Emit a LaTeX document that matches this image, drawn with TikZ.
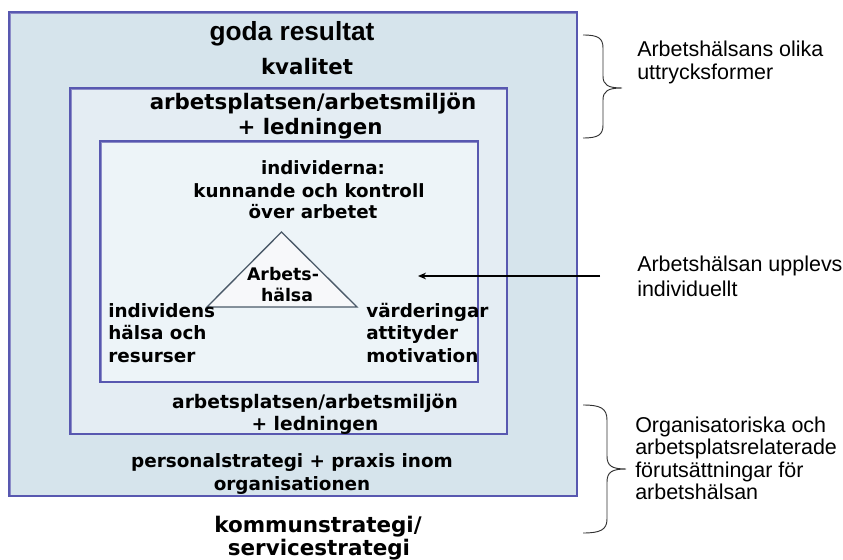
\documentclass[tikz,border=0pt]{standalone}
\usepackage{fontspec}
\setmainfont{Liberation Sans}
\newfontfamily\vfont{DejaVu Sans}
\usetikzlibrary{arrows.meta}
\definecolor{outerfill}{RGB}{214,228,236}
\definecolor{midfill}{RGB}{228,237,243}
\definecolor{innerfill}{RGB}{237,244,248}
\definecolor{boxline}{RGB}{88,88,176}
\definecolor{boxlight}{RGB}{140,140,200}
\definecolor{trifill}{RGB}{247,248,250}
\definecolor{triline}{RGB}{75,90,105}
\definecolor{bracecol}{RGB}{50,50,50}
\tikzset{
  layerbox/.style={draw=boxline, line width=1.1pt},
  vtxt/.style={inner sep=0pt, anchor=base, font=\vfont\bfseries\fontsize{#1}{#1}\selectfont},
  vtxtw/.style={inner sep=0pt, anchor=base west, font=\vfont\bfseries\fontsize{#1}{#1}\selectfont},
  lbl/.style={inner sep=0pt, anchor=base west, font=\fontsize{16.1}{18}\selectfont},
  bracepath/.style={draw=bracecol, line width=0.7pt},
  arrowline/.style={draw=black, line width=1pt, -{Stealth[length=6pt,width=5pt]}}
}
\begin{document}
\begin{tikzpicture}[x=0.75pt,y=-0.75pt]
\useasboundingbox (0,0) rectangle (843,560);
\fill[white] (0,0) rectangle (843,560);

% nested boxes
\filldraw[layerbox, fill=outerfill] (9,12) rectangle (577,496);
\draw[boxlight, line width=0.6pt] (10.5,495) -- (10.5,13.5) -- (576,13.5);
\filldraw[layerbox, fill=midfill] (70,88) rectangle (507,434);
\draw[boxlight, line width=0.6pt] (71.5,433) -- (71.5,89.5) -- (506,89.5);
\filldraw[layerbox, fill=innerfill] (100,141) rectangle (478,382);
\draw[boxlight, line width=0.6pt] (101.5,381) -- (101.5,142.5) -- (477,142.5);

% triangle
\filldraw[draw=triline, fill=trifill, line width=1pt] (281.5,232) -- (207,307) -- (357,307) -- cycle;

% texts in the boxes
\node[inner sep=0pt, anchor=base, font=\bfseries\fontsize{19.7}{22}\selectfont] (goda) at (292,41) {goda resultat};
\node[vtxt=16] (kval) at (307,75) {kvalitet};
\node[vtxt=16] (arbA1) at (313,110) {arbetsplatsen/arbetsmiljön};
\node[vtxt=16] (arbA2) at (310,134) {+ ledningen};
\node[vtxt=13.7] (ind1) at (323,175) {individerna:};
\node[vtxt=13.7] (ind2) at (309,197) {kunnande och kontroll};
\node[vtxt=13.7] (ind3) at (313,218) {över arbetet};
\node[vtxt=13] (ah1) at (283,280) {Arbets-};
\node[vtxt=13] (ah2) at (287,301) {hälsa};
\node[vtxtw=13.8] (ih1) at (108,317) {individens};
\node[vtxtw=13.8] (ih2) at (108,339) {hälsa och};
\node[vtxtw=13.8] (ih3) at (108,362) {resurser};
\node[vtxtw=13.8] (va1) at (366,317) {värderingar};
\node[vtxtw=13.8] (va2) at (366,339) {attityder};
\node[vtxtw=13.8] (va3) at (366,362) {motivation};
\node[vtxt=14] (arbB1) at (315,408) {arbetsplatsen/arbetsmiljön};
\node[vtxt=14] (arbB2) at (315,430) {+ ledningen};
\node[vtxt=13.8] (pers1) at (292,467) {personalstrategi + praxis inom};
\node[vtxt=13.8] (pers2) at (292,490) {organisationen};
\node[vtxt=16.1] (komm1) at (318,532) {kommunstrategi/};
\node[vtxt=16.1] (komm2) at (319,555) {servicestrategi};

% right labels
\node[lbl] (r1a) at (637,57) {Arbetshälsans olika};
\node[lbl] (r1b) at (637,80) {uttrycksformer};
\node[lbl] (r2a) at (637,271) {Arbetshälsan upplevs};
\node[lbl] (r2b) at (637,296) {individuellt};
\node[lbl] (r3a) at (635,432) {Organisatoriska och};
\node[lbl] (r3b) at (635,454) {arbetsplatsrelaterade};
\node[lbl] (r3c) at (635,477) {förutsättningar för};
\node[lbl] (r3d) at (635,499) {arbetshälsan};

% braces
\path[bracepath] (583,35) .. controls (598,35) and (603,38) .. (603,48)
  -- (603,76) .. controls (603,85) and (608,88) .. (622,88)
  .. controls (608,88) and (603,91) .. (603,100)
  -- (603,125) .. controls (603,135) and (598,138) .. (583,138);
\path[bracepath] (583,405) .. controls (600,405) and (607,408) .. (607,420)
  -- (607,456) .. controls (607,466) and (612,469) .. (626,469)
  .. controls (612,469) and (607,472) .. (607,482)
  -- (607,519) .. controls (607,530) and (600,533) .. (583,533);

% arrow
\coordinate (arrS) at (600,276);
\coordinate (arrE) at (418,276);
\draw[arrowline] (arrS) -- (arrE);
\end{tikzpicture}
\end{document}
